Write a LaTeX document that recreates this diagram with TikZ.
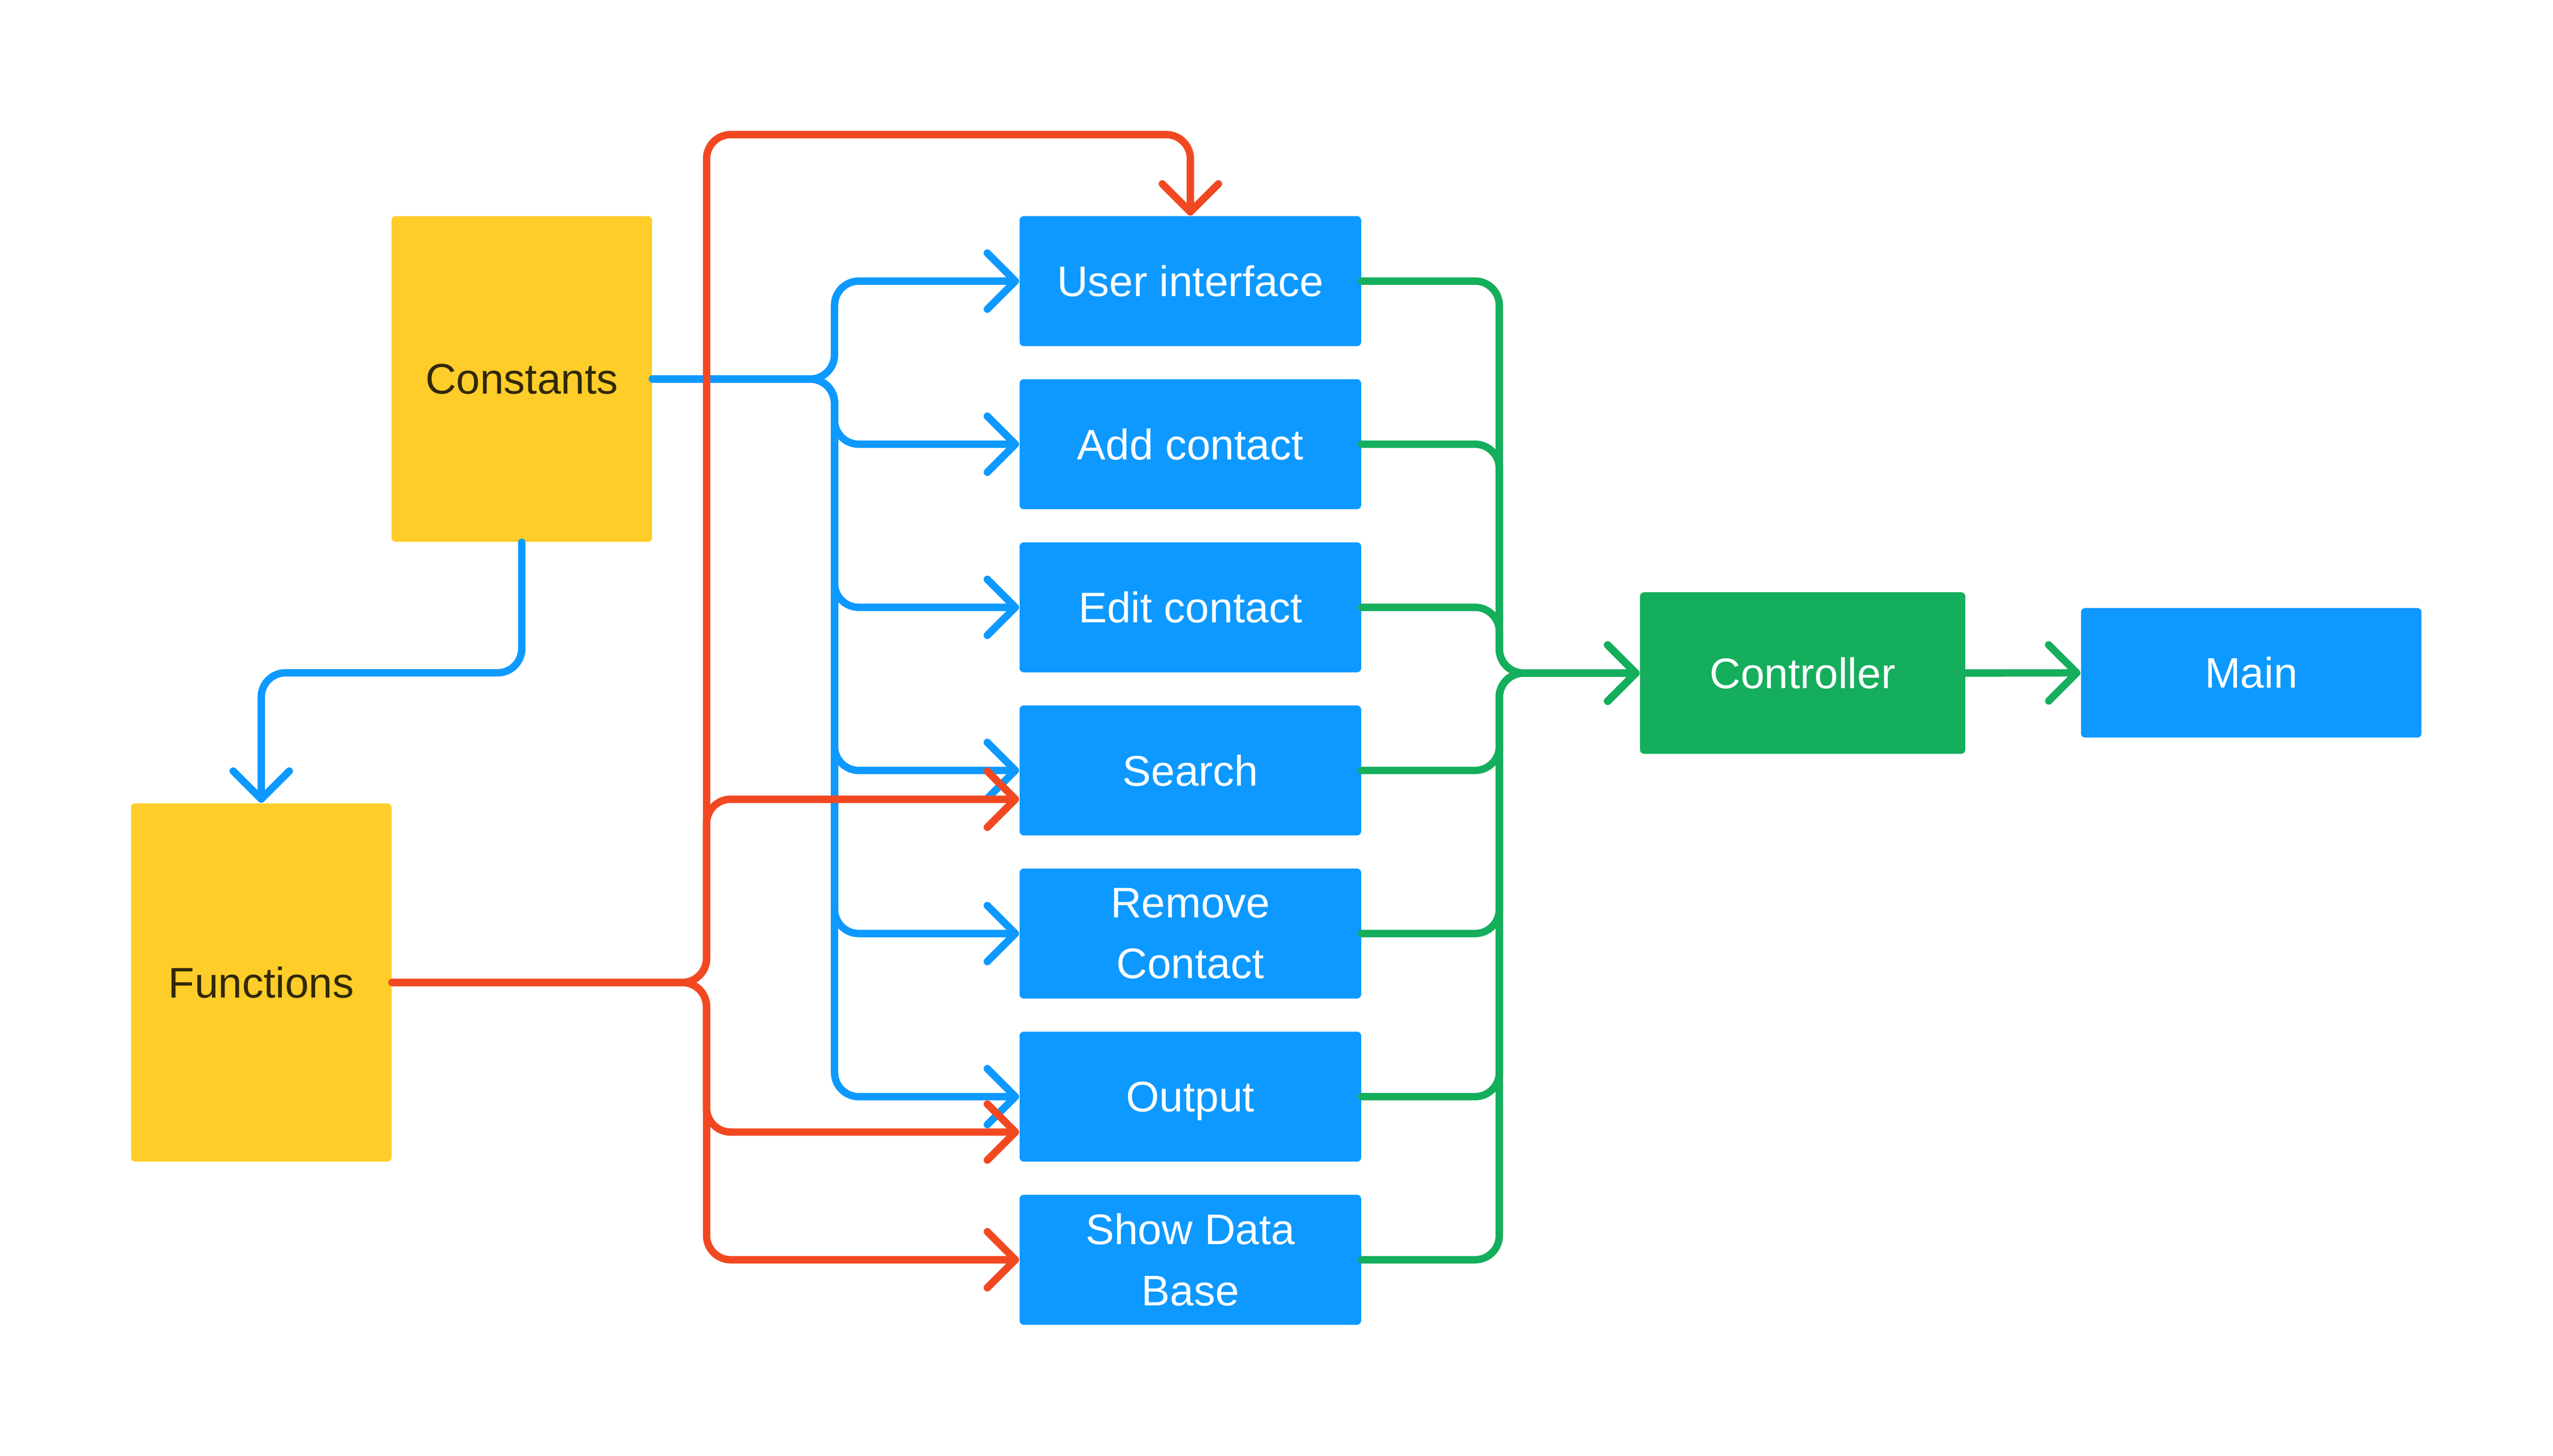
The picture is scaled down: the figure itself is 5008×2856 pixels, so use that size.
\documentclass[tikz,border=0pt]{standalone}
\usepackage{fontspec}
\setmainfont{Liberation Sans}
\usetikzlibrary{arrows.meta}
\definecolor{fjblue}{HTML}{0D99FF}
\definecolor{fjred}{HTML}{F24822}
\definecolor{fjgreen}{HTML}{14AE5C}
\definecolor{fjyellow}{HTML}{FFCD29}
\definecolor{fjtext}{HTML}{31280A}
\tikzset{
  box/.style={rectangle, rounded corners=1.6pt, inner sep=0pt, align=center,
    font=\fontsize{16.8pt}{24pt}\selectfont},
  ybox/.style={box, fill=fjyellow, text=fjtext, minimum width=102.2pt},
  bbox/.style={box, fill=fjblue, text=white, minimum width=134pt, minimum height=51pt},
  gbox/.style={box, fill=fjgreen, text=white, minimum width=127.6pt, minimum height=63.4pt},
  conn/.style={line width=2.9pt, rounded corners=9.5pt, line cap=round, line join=round,
    -{Straight Barb[length=11pt,width=22pt,round]}},
  bluel/.style={conn, draw=fjblue},
  redl/.style={conn, draw=fjred},
  greenl/.style={conn, draw=fjgreen},
}
\begin{document}
\begin{tikzpicture}[x=0.2pt,y=-0.2pt]
\useasboundingbox (0,0) rectangle (5008,2856);
% nodes
\node[ybox, minimum height=127.8pt] (Constants) at (1023.5,743.5) {Constants};
\node[ybox, minimum height=140.6pt] (Functions) at (512.5,1927.5) {Functions};
\node[bbox] (UI) at (2335,551.5) {User interface};
\node[bbox] (Add) at (2335,871.5) {Add contact};
\node[bbox] (Edit) at (2335,1191.5) {Edit contact};
\node[bbox] (Search) at (2335,1511.5) {Search};
\node[bbox] (Remove) at (2335,1831.5) {Remove\hspace{0.28em}\\Contact};
\node[bbox, text depth=0pt] (Output) at (2335,2151.5) {Output};
\node[bbox] (Show) at (2335,2471.5) {Show Data\hspace{0.28em}\\Base};
\node[gbox] (Controller) at (3536,1320.5) {Controller};
\node[bbox, minimum width=133.6pt, minimum height=50.8pt] (Main) at (4416,1320) {Main};
% helper coordinates
\coordinate (bt) at (1637,0);
\coordinate (rt) at (1386,0);
\coordinate (gt) at (2941,0);
\coordinate (top) at (0,264);
\coordinate (mid) at (0,1320);
% blue connectors from Constants
\foreach \t in {UI,Add,Edit,Search,Remove,Output}{
  \draw[bluel] (Constants.east) -- (Constants.east -| bt) |- (\t.west);
}
\draw[bluel] (Constants.south) -- (Constants.south |- mid) -| (Functions.north);
% red connectors from Functions
\draw[redl] (Functions.east) -- (Functions.east -| rt) -- (rt |- top) -| (UI.north);
\draw[redl] (Functions.east) -- (Functions.east -| rt) |- ([yshift=-11.3pt]Search.west);
\draw[redl] (Functions.east) -- (Functions.east -| rt) |- ([yshift=-13.9pt]Output.west);
\draw[redl] (Functions.east) -- (Functions.east -| rt) |- (Show.west);
% green connectors to Controller
\foreach \t in {UI,Add,Edit,Search,Remove,Output,Show}{
  \draw[greenl] (\t.east) -| (gt |- Controller.west) -- (Controller.west);
}
\draw[greenl] (Controller.east) -- (Main.west);
\end{tikzpicture}
\end{document}
